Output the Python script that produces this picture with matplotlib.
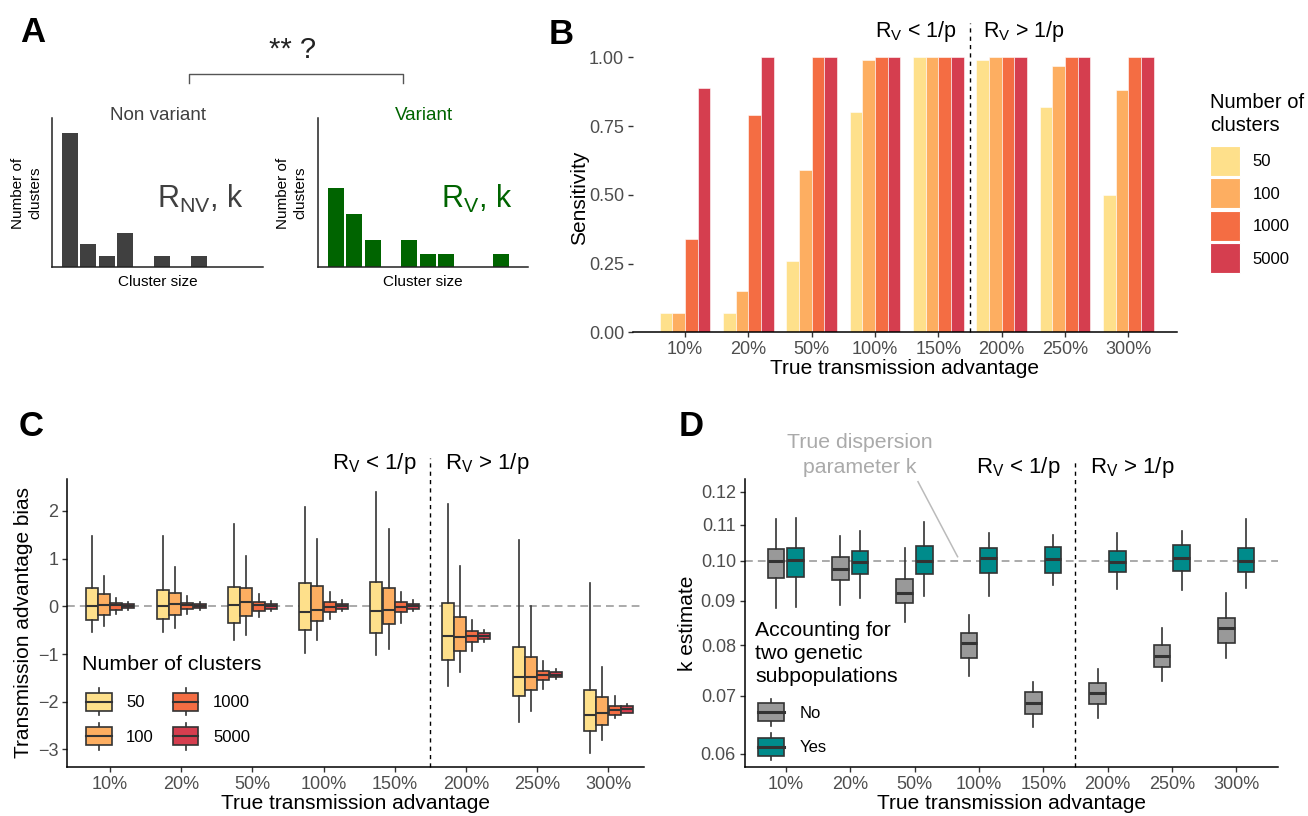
import matplotlib
matplotlib.use('Agg')
import matplotlib.pyplot as plt
import numpy as np
from matplotlib.patches import Rectangle, Patch
from matplotlib.lines import Line2D
from matplotlib.legend_handler import HandlerBase
from matplotlib.ticker import FixedLocator, FixedFormatter, NullLocator

plt.rcParams['font.family'] = ['Liberation Sans', 'DejaVu Sans']
plt.rcParams['mathtext.fontset'] = 'custom'
plt.rcParams['mathtext.rm'] = 'Liberation Sans'
plt.rcParams['mathtext.it'] = 'Liberation Sans:italic'
plt.rcParams['mathtext.bf'] = 'Liberation Sans:bold'

# ---------------- data ----------------
advantages = ['10%', '20%', '50%', '100%', '150%', '200%', '250%', '300%']
cluster_n = ['50', '100', '1000', '5000']
spectral = ['#FEE08B', '#FDAE61', '#F46D43', '#D53E4F']

# Panel A: schematic cluster-size histograms
nonvariant_counts = [12, 2, 1, 3, 0, 1, 0, 1]
variant_counts = [6, 4, 2, 0, 2, 1, 1, 0, 0, 1]

# Panel B: sensitivity
sens_50 = [0.07, 0.07, 0.26, 0.80, 1.00, 0.99, 0.82, 0.50]
sens_100 = [0.07, 0.15, 0.59, 0.99, 1.00, 1.00, 0.97, 0.88]
sens_1000 = [0.34, 0.79, 1.00, 1.00, 1.00, 1.00, 1.00, 1.00]
sens_5000 = [0.89, 1.00, 1.00, 1.00, 1.00, 1.00, 1.00, 1.00]

# Panel C: transmission advantage bias  [whislo, q1, median, q3, whishi]
bias_50 = [[-0.545, -0.29, 0.00, 0.385, 1.475],
           [-0.545, -0.27, 0.00, 0.34, 1.48],
           [-0.70, -0.34, 0.02, 0.40, 1.73],
           [-0.98, -0.49, -0.12, 0.48, 2.08],
           [-1.03, -0.56, -0.10, 0.51, 2.40],
           [-1.67, -1.13, -0.62, 0.06, 2.15],
           [-2.42, -1.88, -1.48, -0.86, 1.40],
           [-3.07, -2.62, -2.28, -1.76, 0.48]]
bias_100 = [[-0.42, -0.19, 0.02, 0.25, 0.64],
            [-0.45, -0.19, 0.04, 0.27, 0.82],
            [-0.60, -0.20, 0.08, 0.38, 1.05],
            [-0.71, -0.30, -0.08, 0.42, 1.41],
            [-0.90, -0.38, -0.07, 0.39, 1.62],
            [-1.38, -0.94, -0.64, -0.22, 0.85],
            [-2.19, -1.76, -1.48, -1.06, 0.01],
            [-2.80, -2.48, -2.24, -1.91, -1.28]]
bias_1000 = [[-0.17, -0.07, 0.03, 0.07, 0.17],
             [-0.17, -0.06, 0.02, 0.07, 0.21],
             [-0.23, -0.10, 0.02, 0.08, 0.25],
             [-0.27, -0.12, -0.01, 0.08, 0.29],
             [-0.34, -0.12, -0.01, 0.08, 0.29],
             [-0.93, -0.75, -0.62, -0.52, -0.29],
             [-1.74, -1.55, -1.44, -1.35, -1.15],
             [-2.35, -2.28, -2.18, -2.10, -1.88]]
bias_5000 = [[-0.07, -0.04, 0.00, 0.04, 0.08],
             [-0.08, -0.04, 0.00, 0.04, 0.10],
             [-0.10, -0.05, 0.00, 0.05, 0.12],
             [-0.09, -0.05, 0.00, 0.04, 0.13],
             [-0.10, -0.05, 0.00, 0.05, 0.13],
             [-0.75, -0.69, -0.62, -0.56, -0.50],
             [-1.53, -1.49, -1.43, -1.38, -1.31],
             [-2.24, -2.23, -2.16, -2.10, -2.05]]

# Panel D: k estimate  [whislo, q1, median, q3, whishi]
k_no = [[0.0883, 0.0955, 0.0998, 0.1030, 0.1115],
        [0.0889, 0.0949, 0.0978, 0.1009, 0.1066],
        [0.0850, 0.0895, 0.0919, 0.0952, 0.1034],
        [0.0737, 0.0773, 0.0804, 0.0826, 0.0866],
        [0.0645, 0.0667, 0.0687, 0.0706, 0.0725],
        [0.0660, 0.0684, 0.0704, 0.0723, 0.0752],
        [0.0727, 0.0755, 0.0777, 0.0800, 0.0838],
        [0.0774, 0.0805, 0.0836, 0.0859, 0.0917]]
k_yes = [[0.0884, 0.0958, 0.1003, 0.1034, 0.1118],
         [0.0906, 0.0966, 0.0996, 0.1027, 0.1083],
         [0.0912, 0.0966, 0.1000, 0.1039, 0.1107],
         [0.0910, 0.0969, 0.1008, 0.1034, 0.1077],
         [0.0937, 0.0969, 0.1005, 0.1036, 0.1070],
         [0.0929, 0.0971, 0.0996, 0.1027, 0.1076],
         [0.0926, 0.0974, 0.1006, 0.1042, 0.1081],
         [0.0930, 0.0971, 0.1000, 0.1035, 0.1115]]
k_ticks = [0.06, 0.07, 0.08, 0.09, 0.10, 0.11, 0.12]
true_k = 0.10

# ---------------- figure ----------------
W, H = 1308, 816
fig = plt.figure(figsize=(W / 100, H / 100), dpi=100)
fig.patch.set_facecolor('white')


def add_ax(l, t, r, b):
    return fig.add_axes([l / W, 1 - b / H, (r - l) / W, (b - t) / H])


def P(x, y):
    return (x / W, 1 - y / H)


EDGE = '#333333'
TICKC = '#4D4D4D'
TICK_FS = 13
LAB_FS = 15


def style_axes(ax, left=True):
    for s in ['top', 'right']:
        ax.spines[s].set_visible(False)
    ax.spines['left'].set_visible(left)
    for s in ['left', 'bottom']:
        ax.spines[s].set_linewidth(1.1)
        ax.spines[s].set_color('black')
    ax.tick_params(axis='both', length=3.8, width=1.0, color=EDGE,
                   labelcolor=TICKC, labelsize=TICK_FS, pad=2.5)


def rv_labels(xr, xl, y, fs=16):
    fig.text(*P(xr, y), r'R$_{\mathrm{V}}$ < 1/p', ha='right', va='center', fontsize=fs)
    fig.text(*P(xl, y), r'R$_{\mathrm{V}}$ > 1/p', ha='left', va='center', fontsize=fs)


class BoxKeyHandler(HandlerBase):
    def __init__(self, mlw=1.5, **kw):
        super().__init__(**kw)
        self.mlw = mlw

    def create_artists(self, legend, orig_handle, xdescent, ydescent,
                       width, height, fontsize, trans):
        fc = orig_handle.get_facecolor()
        bh = height * 0.675
        x0 = -xdescent
        y0 = -ydescent + (height - bh) / 2
        xc = x0 + width / 2
        w1 = Line2D([xc, xc], [-ydescent, y0], color=EDGE, lw=1.2, transform=trans)
        w2 = Line2D([xc, xc], [y0 + bh, -ydescent + height], color=EDGE, lw=1.2, transform=trans)
        rect = Rectangle((x0, y0), width, bh, facecolor=fc, edgecolor=EDGE,
                         lw=1.2, transform=trans)
        med = Line2D([x0, x0 + width], [y0 + bh / 2] * 2, color=EDGE,
                     lw=self.mlw, transform=trans)
        return [w1, w2, rect, med]


def to_stats(rows):
    return [dict(whislo=r[0], q1=r[1], med=r[2], q3=r[3], whishi=r[4], fliers=[]) for r in rows]


x = np.arange(len(advantages))

# ================= Panel A =================
axA1 = add_ax(51.7, 118.3, 262.8, 266.7)
axA2 = add_ax(317.6, 118.3, 528.3, 266.7)
for ax, counts, col, ymax in [(axA1, nonvariant_counts, '#404040', 13.3),
                              (axA2, variant_counts, '#006400', 11.3)]:
    ax.bar(np.arange(len(counts)), counts, width=0.87, color=col)
    ax.set_xlim(-1.0, 10.5)
    ax.set_ylim(0, ymax)
    ax.set_xticks([])
    ax.set_yticks([])
    for s in ['top', 'right']:
        ax.spines[s].set_visible(False)
    for s in ['left', 'bottom']:
        ax.spines[s].set_linewidth(1.1)
        ax.spines[s].set_color('#222222')
    ax.patch.set_alpha(0)

fig.text(*P(158, 115), 'Non variant', ha='center', va='center', fontsize=13.5, color='#404040')
fig.text(*P(423.5, 115), 'Variant', ha='center', va='center', fontsize=13.5, color='#006400')
fig.text(*P(157, 208), r'R$_{\mathrm{NV}}$, k', ha='left', va='baseline', fontsize=22, color='#404040')
fig.text(*P(441, 208), r'R$_{\mathrm{V}}$, k', ha='left', va='baseline', fontsize=22, color='#006400')
for xc in [27, 292]:
    fig.text(*P(xc, 193), 'Number of\nclusters', ha='center', va='center', rotation=90,
             fontsize=11, linespacing=1.3)
for xc in [158, 423]:
    fig.text(*P(xc, 282), 'Cluster size', ha='center', va='center', fontsize=11)
bx = [189, 189, 403, 403]
by = [83, 74, 74, 83]
fig.add_artist(Line2D([v / W for v in bx], [1 - v / H for v in by], color='#555555', lw=1.0))
fig.text(*P(293, 50), '** ?', ha='center', va='center', fontsize=21, color='#222222')
fig.text(*P(33, 33), 'A', ha='center', va='center', fontsize=25, fontweight='bold')

# ================= Panel B =================
axB = add_ax(633, 57.3, 1177, 332.3)
style_axes(axB, left=False)
sens = [sens_50, sens_100, sens_1000, sens_5000]
bw = 0.2
for i, (vals, col, lab) in enumerate(zip(sens, spectral, cluster_n)):
    axB.bar(x + (i - 1.5) * bw, vals, width=bw, color=col, edgecolor='white',
            linewidth=0.4, label=lab)
axB.set_xlim(-0.82, 7.77)
axB.set_ylim(0, 1.0)
axB.set_xticks(x)
axB.set_xticklabels(advantages)
axB.set_yticks([0, 0.25, 0.5, 0.75, 1.0])
axB.set_yticklabels(['0.00', '0.25', '0.50', '0.75', '1.00'])
axB.set_ylabel('Sensitivity', fontsize=LAB_FS)
axB.yaxis.set_label_coords(-0.081, 0.49)
axB.set_xlabel('True transmission advantage', fontsize=LAB_FS)
axB.xaxis.set_label_coords(0.5, -0.097)
axB.plot([4.5, 4.5], [0, 1.125], color='black', lw=1.0, ls=(0, (3, 3)), clip_on=False)
rv_labels(957, 983, 31, fs=15.5)
fig.text(*P(1210, 114), 'Number of\nclusters', ha='left', va='center', fontsize=14.5,
         linespacing=1.27)
handles = [Patch(facecolor=c, edgecolor='white', lw=0.8) for c in spectral]
fig.legend(handles, cluster_n, loc='upper left', bbox_to_anchor=P(1210, 146),
           bbox_transform=fig.transFigure, frameon=False, fontsize=12,
           handlelength=1.8, handleheight=2.39, labelspacing=0.15,
           handletextpad=0.75, borderpad=0, borderaxespad=0)
fig.text(*P(561, 35), 'B', ha='center', va='center', fontsize=25, fontweight='bold')

# ================= Panel C =================
axC = add_ax(67.3, 479, 644, 767)
style_axes(axC)
axC.axhline(0, color='#AAAAAA', lw=1.4, dashes=(4, 2.6), zorder=0)
cw = 0.172
bias = [bias_50, bias_100, bias_1000, bias_5000]
for i, (rows, col) in enumerate(zip(bias, spectral)):
    axC.bxp(to_stats(rows), positions=x + (i - 1.5) * cw, widths=cw * 0.98,
            patch_artist=True, showcaps=False, showfliers=False, manage_ticks=False,
            boxprops=dict(facecolor=col, edgecolor=EDGE, linewidth=1.2),
            whiskerprops=dict(color=EDGE, linewidth=1.2),
            medianprops=dict(color=EDGE, linewidth=1.5, solid_capstyle='butt'))
axC.set_xlim(-0.6, 7.5)
axC.set_ylim(-3.369, 2.669)
axC.set_xticks(x)
axC.set_xticklabels(advantages)
axC.set_yticks([-3, -2, -1, 0, 1, 2])
axC.set_ylabel('Transmission advantage bias', fontsize=LAB_FS)
axC.yaxis.set_label_coords(-0.0595, 0.5)
axC.set_xlabel('True transmission advantage', fontsize=LAB_FS)
axC.xaxis.set_label_coords(0.5, -0.094)
axC.plot([4.5, 4.5], [-3.369, 3.11], color='black', lw=1.0, ls=(0, (3, 3)), clip_on=False)
rv_labels(417, 445, 463)
fig.text(*P(82, 665), 'Number of clusters', ha='left', va='center', fontsize=15.4)
handlesC = [Patch(facecolor=c) for c in spectral]
fig.legend(handlesC, cluster_n, loc='upper left', bbox_to_anchor=P(86, 688.5),
           bbox_transform=fig.transFigure, frameon=False, fontsize=12, ncol=2,
           handler_map={Patch: BoxKeyHandler(mlw=1.5)},
           handlelength=1.53, handleheight=2.08, labelspacing=0.47,
           handletextpad=0.87, columnspacing=1.15, borderpad=0, borderaxespad=0)
fig.text(*P(31.5, 426), 'C', ha='center', va='center', fontsize=25, fontweight='bold')

# ================= Panel D =================
axD = add_ax(744.7, 479, 1278, 767)
style_axes(axD)
axD.set_yscale('log')
axD.axhline(true_k, color='#AAAAAA', lw=1.4, dashes=(4, 2.6), zorder=0)
dw = 0.26
doff = 0.152
for rows, col, off in [(k_no, '#999999', -doff), (k_yes, '#008B8B', doff)]:
    axD.bxp(to_stats(rows), positions=x + off, widths=dw,
            patch_artist=True, showcaps=False, showfliers=False, manage_ticks=False,
            boxprops=dict(facecolor=col, edgecolor=EDGE, linewidth=1.2),
            whiskerprops=dict(color=EDGE, linewidth=1.2),
            medianprops=dict(color=EDGE, linewidth=2.2, solid_capstyle='butt'))
axD.set_xlim(-0.64, 7.65)
axD.set_ylim(0.05797, 0.12409)
axD.set_xticks(x)
axD.set_xticklabels(advantages)
axD.yaxis.set_major_locator(FixedLocator(k_ticks))
axD.yaxis.set_major_formatter(FixedFormatter(['%.2f' % v for v in k_ticks]))
axD.yaxis.set_minor_locator(NullLocator())
axD.set_ylabel('k estimate', fontsize=LAB_FS)
axD.yaxis.set_label_coords(-0.0894, 0.5)
axD.set_xlabel('True transmission advantage', fontsize=LAB_FS)
axD.xaxis.set_label_coords(0.5, -0.094)
axD.plot([4.5, 4.5], [0.05797, 0.1305], color='black', lw=1.0, ls=(0, (3, 3)), clip_on=False)
rv_labels(1061, 1090, 467)
fig.text(*P(860, 455), 'True dispersion\nparameter k', ha='center', va='center',
         fontsize=15.3, color='#AAAAAA', linespacing=1.4)
fig.add_artist(Line2D([918 / W, 957.6 / W], [1 - 481.7 / H, 1 - 556.7 / H],
                      color='#BBBBBB', lw=1.1))
fig.text(*P(755, 653.5), 'Accounting for\ntwo genetic\nsubpopulations', ha='left',
         va='center', fontsize=15.3, linespacing=1.27)
handlesD = [Patch(facecolor='#999999'), Patch(facecolor='#008B8B')]
fig.legend(handlesD, ['No', 'Yes'], loc='upper left', bbox_to_anchor=P(758, 699),
           bbox_transform=fig.transFigure, frameon=False, fontsize=12,
           handler_map={Patch: BoxKeyHandler(mlw=2.2)},
           handlelength=1.56, handleheight=2.08, labelspacing=0.47,
           handletextpad=0.96, borderpad=0, borderaxespad=0)
fig.text(*P(691, 426), 'D', ha='center', va='center', fontsize=25, fontweight='bold')

fig.savefig('out.png', dpi=100, facecolor='white')
